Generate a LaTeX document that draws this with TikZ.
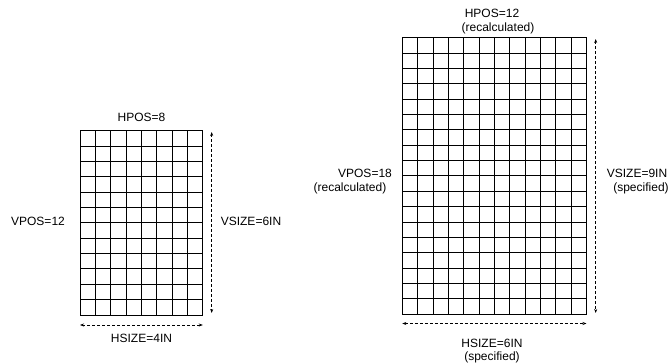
\documentclass[tikz,border=0pt]{standalone}
\usepackage{fontspec}
\setmainfont{Liberation Sans}
\usetikzlibrary{arrows.meta}

\begin{document}
\begin{tikzpicture}[x=1pt,y=-1pt,>={Stealth[length=4pt,width=3pt]},
  lbl/.style={font=\fontsize{12}{14}\selectfont,inner sep=0pt},
  dim/.style={<->,dash pattern=on 3pt off 2pt,line width=0.6pt}]
  \useasboundingbox (0,0) rectangle (672,364);
  % small page: 8 columns, 12 rows
  \foreach \i in {0,...,8} \draw[line width=0.8pt] (80+\i*15.35,130.7) -- (80+\i*15.35,314.9);
  \foreach \j in {0,...,12} \draw[line width=0.8pt] (80,130.7+\j*15.35) -- (202.8,130.7+\j*15.35);
  % large page: 12 columns, 18 rows
  \foreach \i in {0,...,12} \draw[line width=0.8pt] (402.3+\i*15.35,37.7) -- (402.3+\i*15.35,314);
  \foreach \j in {0,...,18} \draw[line width=0.8pt] (402.3,37.7+\j*15.35) -- (586.5,37.7+\j*15.35);
  % dimension ends
  \coordinate (vt1) at (211.7,132); \coordinate (vb1) at (211.7,313);
  \coordinate (hl1) at (80,325);    \coordinate (hr1) at (202.8,325);
  \coordinate (vt2) at (595.7,39);  \coordinate (vb2) at (595.7,313);
  \coordinate (hl2) at (402.3,323.5); \coordinate (hr2) at (586.5,323.5);
  \draw[dim] (vt1) -- (vb1);
  \draw[dim] (hl1) -- (hr1);
  \draw[dim] (vt2) -- (vb2);
  \draw[dim] (hl2) -- (hr2);
  % labels
  \node[lbl] (hpos1) at (141.5,117) {HPOS=8};
  \node[lbl] (vpos1) at (38,221) {VPOS=12};
  \node[lbl] (vsize1) at (251,221) {VSIZE=6IN};
  \node[lbl] (hsize1) at (141.5,338) {HSIZE=4IN};
  \node[lbl] (hpos2) at (492,13) {HPOS=12};
  \node[lbl] (hrec) at (498,28) {(recalculated)};
  \node[lbl] (vpos2) at (365,173) {VPOS=18};
  \node[lbl] (vrec) at (350,188) {(recalculated)};
  \node[lbl] (vsize2) at (637,173) {VSIZE=9IN};
  \node[lbl] (vspec) at (641,188) {(specified)};
  \node[lbl] (hsize2) at (492,343) {HSIZE=6IN};
  \node[lbl] (hspec) at (492,357.5) {(specified)};
\end{tikzpicture}
\end{document}
